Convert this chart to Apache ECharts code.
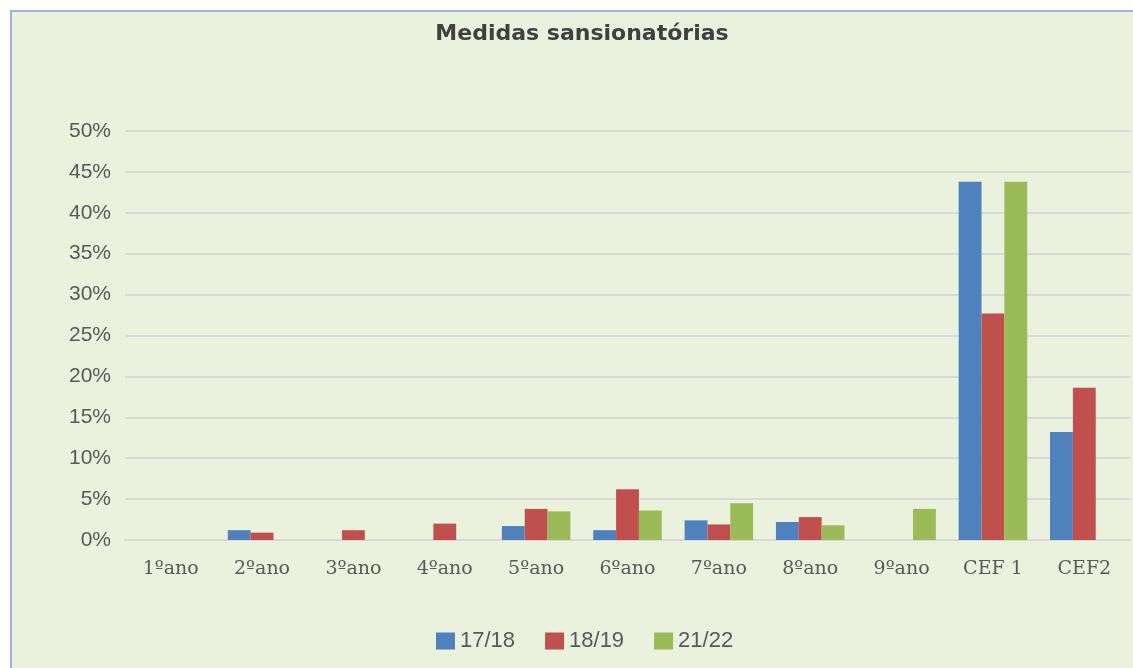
<!DOCTYPE html>
<html>
<head>
<meta charset="utf-8">
<script src="https://cdn.jsdelivr.net/npm/echarts@6/dist/echarts.min.js"></script>
<style>
  html, body { margin: 0; padding: 0; background: #fff; overflow: hidden; }
  #frame {
    position: absolute; left: 10px; top: 10px;
    width: 1140px; height: 680px;
    border-top: 2px solid #9BB8DA; border-left: 2px solid #9BB8DA;
    background: #EAF1DD;
  }
  #chart { width: 1121px; height: 656px; }
</style>
</head>
<body>
<div id="frame"><div id="chart"></div></div>
<script>
const categories = ['1ºano', '2ºano', '3ºano', '4ºano', '5ºano', '6ºano', '7ºano', '8ºano', '9ºano', 'CEF 1', 'CEF2'];
const seriesNames = ['17/18', '18/19', '21/22'];
const values1718 = [0, 1.2, 0, 0, 1.7, 1.2, 2.4, 2.2, 0, 43.8, 13.2];
const values1819 = [0, 0.9, 1.2, 2.0, 3.8, 6.2, 1.9, 2.8, 0, 27.7, 18.6];
const values2122 = [0, 0, 0, 0, 3.5, 3.6, 4.5, 1.8, 3.8, 43.8, 0];
const colors = ['#4F81BD', '#C0504D', '#9BBB59'];

const chart = echarts.init(document.getElementById('chart'));

const series = [values1718, values1819, values2122].map((data, i) => ({
  name: seriesNames[i],
  type: 'bar',
  barGap: '0%',
  barCategoryGap: '25%',
  itemStyle: { color: colors[i] },
  data: data,
}));

chart.setOption({
  backgroundColor: 'transparent',
  color: colors,
  title: {
    text: 'Medidas sansionatórias',
    left: 565,
    textAlign: 'center',
    top: 6,
    textStyle: { fontFamily: 'DejaVu Sans', fontWeight: 'bold', fontSize: 22, color: '#404040' },
  },
  legend: {
    left: 419,
    top: 613,
    itemWidth: 19,
    itemHeight: 17,
    itemGap: 30,
    icon: 'rect',
    textStyle: { fontFamily: 'Liberation Sans', fontSize: 22, color: '#595959' },
    data: seriesNames,
  },
  grid: { left: 113, right: 3, top: 119, bottom: 128 },
  xAxis: {
    type: 'category',
    data: categories,
    axisTick: { show: false },
    axisLine: { lineStyle: { color: '#D9D9D9', width: 2 } },
    axisLabel: { fontFamily: 'DejaVu Serif', fontSize: 19, color: '#595959', margin: 20 },
  },
  yAxis: {
    type: 'value',
    min: 0,
    max: 50,
    interval: 5,
    axisLine: { show: false },
    axisTick: { show: false },
    splitLine: { lineStyle: { color: '#D9D9D9', width: 2 } },
    axisLabel: {
      formatter: '{value}%',
      fontFamily: 'Liberation Sans',
      fontSize: 21,
      color: '#595959',
      margin: 14,
    },
  },
  series: series,
});
</script>
</body>
</html>
